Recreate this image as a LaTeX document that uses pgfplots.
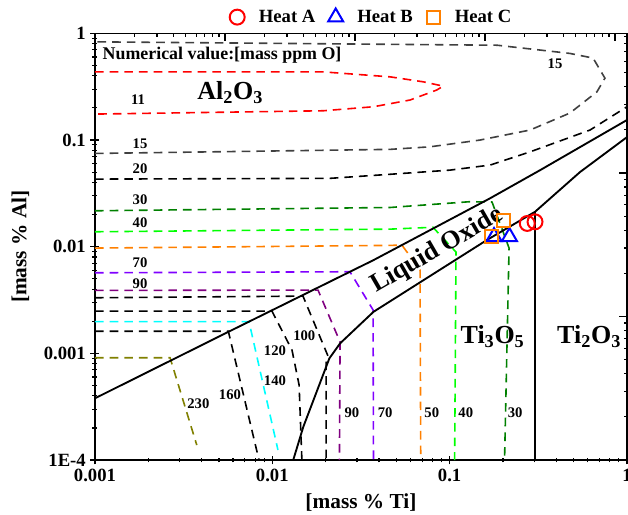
\documentclass[border=0pt]{standalone}
\usepackage{fontspec}
\setmainfont{Liberation Serif}
\usepackage{pgfplots}
\pgfplotsset{compat=1.18}

\definecolor{c15}{RGB}{64,64,64}
\definecolor{c30}{RGB}{0,128,0}
\definecolor{c40}{RGB}{0,255,0}
\definecolor{c50}{RGB}{255,128,0}
\definecolor{c70}{RGB}{128,0,255}
\definecolor{c90}{RGB}{128,0,128}
\definecolor{c140}{RGB}{0,255,255}
\definecolor{c230}{RGB}{128,128,0}

\pgfplotsset{
  cont/.style={line width=1.2pt, dash pattern=on 6.5pt off 4.5pt, forget plot},
  bnd/.style={black, line width=1.4pt, forget plot},
}
\newcommand{\lab}{\bfseries\fontsize{11}{13}\selectfont}
\newcommand{\phasefont}{\bfseries\fontsize{19.5}{21}\selectfont}

\begin{document}
\begin{tikzpicture}
\useasboundingbox (-71.25pt,-40.5pt) rectangle (399.75pt,345pt);

% top / right axes of the original carry their own log scale, no labels
\begin{axis}[
  at={(0pt,0pt)}, anchor=south west,
  width=399pt, height=320pt, scale only axis,
  xmode=log, ymode=log, xmin=1, xmax=12360, ymin=1, ymax=941,
  xtick pos=right, ytick pos=right, tick align=inside,
  xtick={1,10,100,1000,10000}, ytick={1,10,100},
  minor xtick={2,3,4,5,6,7,8,9,20,30,40,50,60,70,80,90,200,300,400,500,600,700,800,900,2000,3000,4000,5000,6000,7000,8000,9000},
  minor ytick={2,3,4,5,6,7,8,9,20,30,40,50,60,70,80,90,200,300,400,500,600,700,800,900},
  xticklabels={}, yticklabels={},
  major tick length=6pt, minor tick length=2.6pt,
  tick style={black, line width=0.9pt},
  axis line style={line width=1.1pt},
]
\end{axis}

\begin{axis}[
  at={(0pt,0pt)}, anchor=south west,
  width=399pt, height=320pt, scale only axis,
  xmode=log, ymode=log, xmin=0.001, xmax=1, ymin=1e-4, ymax=1,
  xtick={0.001,0.01,0.1,1}, xticklabels={0.001,0.01,0.1,1},
  ytick={1e-4,0.001,0.01,0.1,1}, yticklabels={1E-4,0.001,0.01,0.1,1},
  minor xtick={0.002,0.003,0.004,0.005,0.006,0.007,0.008,0.009,0.02,0.03,0.04,0.05,0.06,0.07,0.08,0.09,0.2,0.3,0.4,0.5,0.6,0.7,0.8,0.9},
  minor ytick={2e-4,3e-4,4e-4,5e-4,6e-4,7e-4,8e-4,9e-4,0.002,0.003,0.004,0.005,0.006,0.007,0.008,0.009,0.02,0.03,0.04,0.05,0.06,0.07,0.08,0.09,0.2,0.3,0.4,0.5,0.6,0.7,0.8,0.9},
  xtick pos=left, ytick pos=left,
  tick align=center, major tick length=6.75pt, minor tick length=3.75pt,
  tick style={black, line width=0.9pt},
  axis line style={line width=1.1pt},
  ticklabel style={font=\bfseries\fontsize{14}{16}\selectfont},
  xlabel={[mass \% Ti]}, ylabel={[mass \% Al]},
  every axis x label/.style={at={(axis description cs:0.5,0)}, yshift=-32.25pt, anchor=center,
    font=\bfseries\fontsize{16}{18}\selectfont},
  every axis y label/.style={at={(axis description cs:0,0.5)}, xshift=-56pt, rotate=90, anchor=center,
    font=\bfseries\fontsize{16}{18}\selectfont},
  legend image code/.code={\path (-10pt,0pt) (11pt,0pt); \draw[#1] plot coordinates {(0pt,0pt)};},
  legend style={at={(axis description cs:0.514,1.038)}, anchor=center, draw=none, fill=none,
    legend columns=3, font=\bfseries\fontsize{14}{16}\selectfont, column sep=2.5pt},
]
% iso-oxygen contours [mass ppm O]
\addplot[cont, red] coordinates {(0.001,0.435) (0.0194,0.435) (0.0461,0.391) (0.0711,0.351) (0.0920,0.320) (0.0845,0.294) (0.0598,0.237) (0.0372,0.205) (0.0194,0.188) (0.001,0.175)};
\addplot[cont, c15] coordinates {(0.001,0.0748) (0.0461,0.0817) (0.0774,0.0863) (0.148,0.0998) (0.284,0.124) (0.477,0.179) (0.677,0.283) (0.751,0.380) (0.644,0.586) (0.477,0.648) (0.185,0.774) (0.001,0.832)};
\addplot[cont, black] coordinates {(0.001,0.0430) (0.0211,0.0437) (0.0461,0.0477) (0.1005,0.0522) (0.169,0.0582) (0.284,0.0774) (0.619,0.124) (1,0.205)};
\addplot[cont, c30] coordinates {(0.001,0.0217) (0.0461,0.0233) (0.130,0.0264) (0.1734,0.0262) (0.2163,0.0097) (0.204,0.0001)};
\addplot[cont, c40] coordinates {(0.001,0.0138) (0.0461,0.0146) (0.0805,0.0152) (0.1086,0.0089) (0.1067,0.0001)};
\addplot[cont, c50] coordinates {(0.001,0.0097) (0.0461,0.01028) (0.0538,0.01035) (0.0681,0.00604) (0.0687,0.0001)};
\addplot[cont, c70] coordinates {(0.001,0.00569) (0.0274,0.00582) (0.0370,0.00255) (0.0372,0.0001)};
\addplot[cont, c90] coordinates {(0.001,0.00389) (0.0181,0.00392) (0.0241,0.00128) (0.0239,0.0001)};
\addplot[cont, black] coordinates {(0.001,0.00332) (0.01489,0.00344) (0.0206,0.000944) (0.0201,0.000811) (0.0201,0.0001)};
\addplot[cont, black] coordinates {(0.001,0.00249) (0.00995,0.00249) (0.01291,0.001074) (0.01416,0.000505) (0.01468,0.0001)};
\addplot[cont, c140] coordinates {(0.001,0.00198) (0.00739,0.00198) (0.01076,0.000124)};
\addplot[cont, black] coordinates {(0.001,0.00161) (0.00565,0.00161) (0.00841,0.0001)};
\addplot[cont, c230] coordinates {(0.001,0.00091) (0.00265,0.00091) (0.00375,0.000138)};

% phase boundaries
\addplot[bnd] coordinates {(0.001,3.79e-4) (0.00565,1.59e-3) (0.0372,7.48e-3) (0.169,0.0284) (0.324,0.0522) (1,0.154)};
\addplot[bnd] coordinates {(0.01312,1e-4) (0.01496,2.05e-4) (0.02097,8.97e-4) (0.0241,1.24e-3) (0.0372,2.45e-3) (0.162,0.01153) (0.303,0.02123) (0.543,0.0500) (1,0.1064)};
\addplot[bnd] coordinates {(0.303,0.02123) (0.303,1e-4)};

% measured heats
\addplot[only marks, mark=o, mark size=5.6pt, red, line width=1.5pt] coordinates {(0.274,0.01651) (0.303,0.0171)};
\addlegendentry{Heat A}
\addplot[only marks, mark=triangle, mark size=6.5pt, blue, line width=1.5pt] coordinates {(0.178,0.01239) (0.2174,0.01239)};
\addlegendentry{Heat B}
\addplot[only marks, mark=square, mark size=4.9pt, c50, line width=1.5pt] coordinates {(0.201,0.01773) (0.1725,0.01239)};
\addlegendentry{Heat C}

% labels
\node[anchor=west, font=\bfseries\fontsize{13.4}{15}\selectfont] at (0.00104,0.625) {Numerical value:[mass ppm O]};
\node[font=\lab] at (0.00175,0.237) {11};
\node[anchor=base west, font=\phasefont] at (0.00355,0.240) {Al\textsubscript{2}O\textsubscript{3}};
\node[font=\lab] at (0.393,0.522) {15};
\node[font=\lab] at (0.001795,0.0917) {15};
\node[font=\lab] at (0.001795,0.0533) {20};
\node[font=\lab] at (0.001795,0.0273) {30};
\node[font=\lab] at (0.001795,0.01663) {40};
\node[font=\lab] at (0.001795,0.00706) {70};
\node[font=\lab] at (0.001795,0.00453) {90};
\node[font=\lab] at (0.01514,0.00145) {100};
\node[font=\lab] at (0.01035,0.001057) {120};
\node[font=\lab] at (0.01035,0.000553) {140};
\node[font=\lab] at (0.00577,0.000406) {160};
\node[font=\lab] at (0.00383,0.000335) {230};
\node[font=\lab] at (0.0281,0.000275) {90};
\node[font=\lab] at (0.0433,0.000275) {70};
\node[font=\lab] at (0.0793,0.000275) {50};
\node[font=\lab] at (0.1233,0.000275) {40};
\node[font=\lab] at (0.234,0.000275) {30};
\node[anchor=base west, font=\phasefont] at (0.1085,0.00124) {Ti\textsubscript{3}O\textsubscript{5}};
\node[anchor=base west, font=\phasefont] at (0.38,0.00124) {Ti\textsubscript{2}O\textsubscript{3}};
\node[rotate=30, font=\phasefont] at (0.0849,0.0092) {Liquid Oxide};
\end{axis}
\end{tikzpicture}
\end{document}
